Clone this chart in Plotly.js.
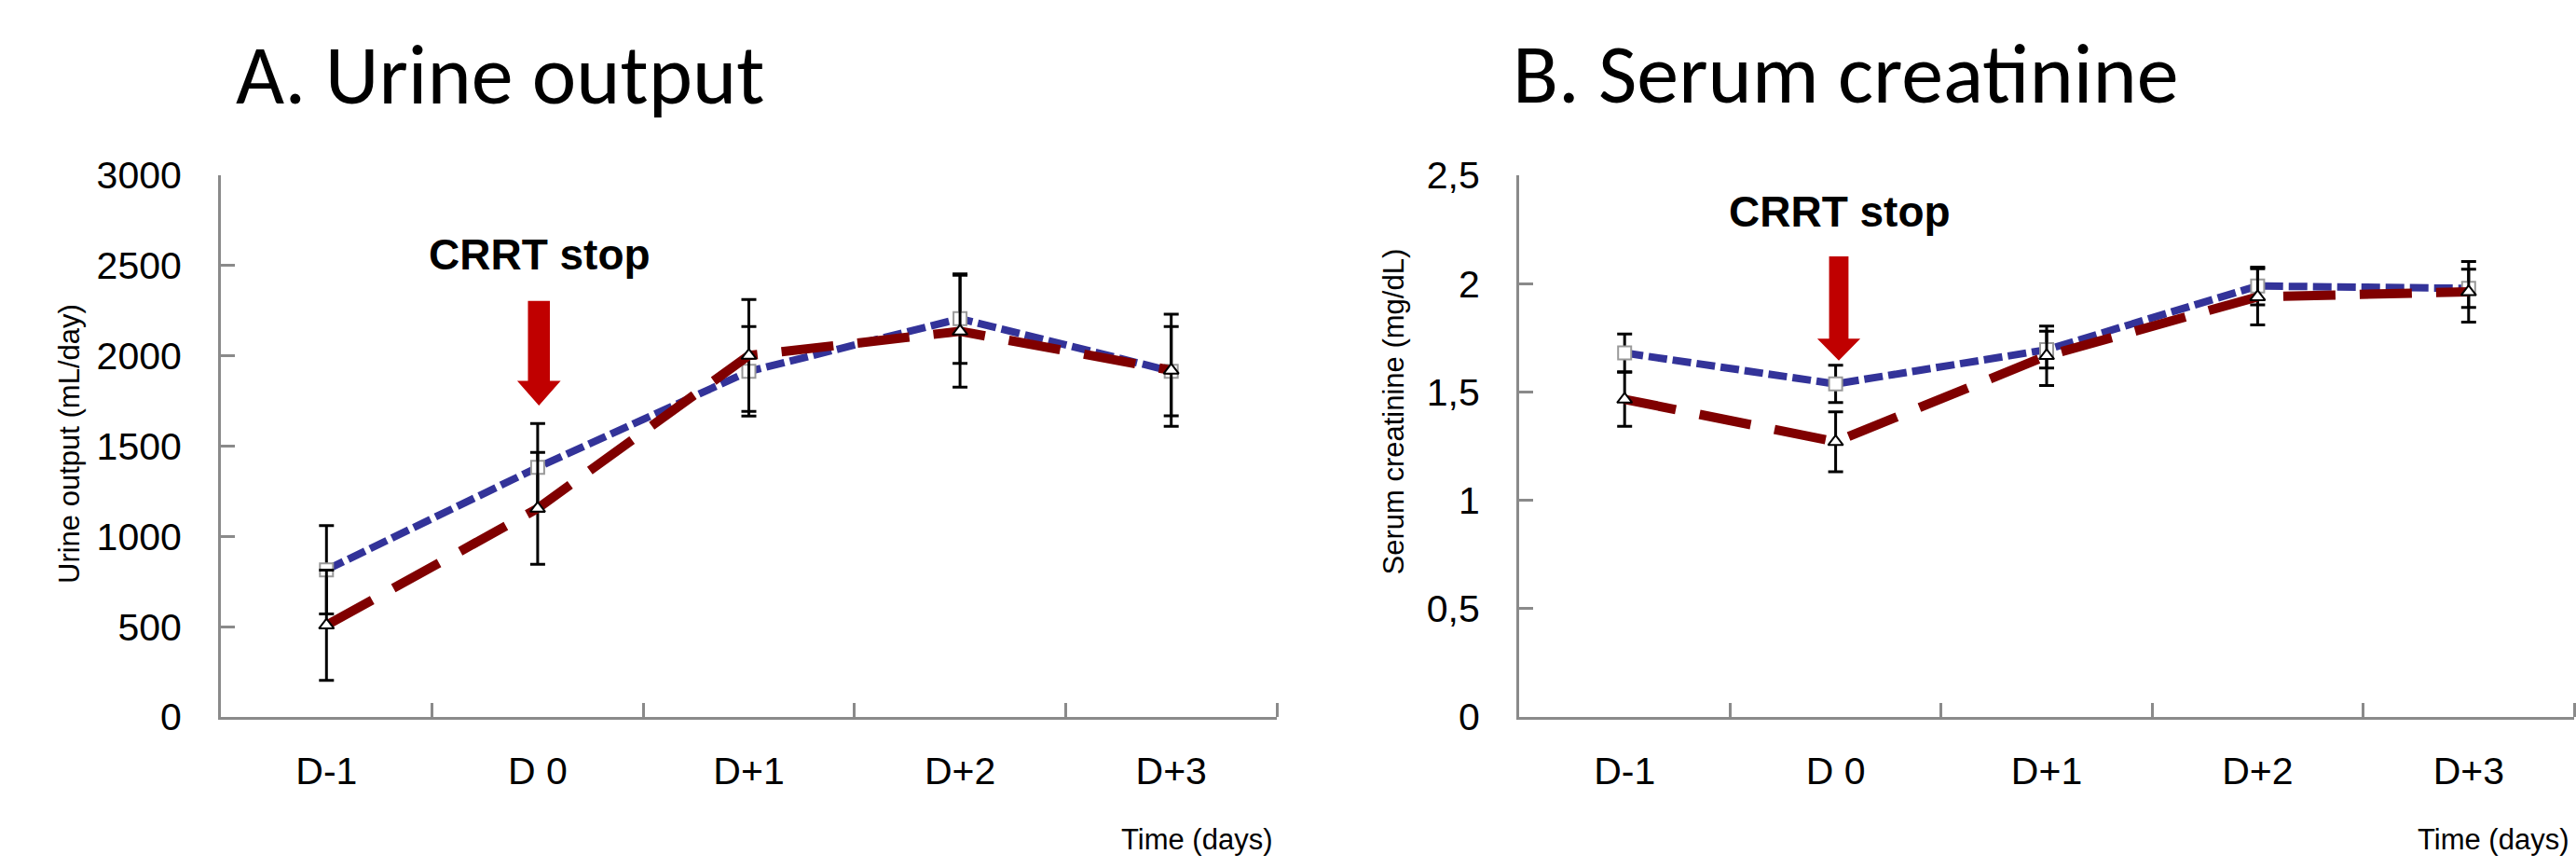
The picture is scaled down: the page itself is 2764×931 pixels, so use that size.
<!DOCTYPE html>
<html>
<head>
<meta charset="utf-8">
<script src="https://cdn.plot.ly/plotly-3.0.1.min.js"></script>
<style>html,body{margin:0;padding:0;background:#fff;}#chart{width:2764px;height:931px;}</style>
</head>
<body>
<div id="chart"></div>
<script>
// ---- data ----
const categories = ['D-1', 'D 0', 'D+1', 'D+2', 'D+3'];
const urineBlue = [815, 1382, 1914, 2206, 1915];
const urineBlueErr = [245, 243, 248, 248, 247];
const urineRed = [508, 1155, 2002, 2136, 1920];
const urineRedErr = [305, 310, 310, 310, 310];
const creatBlue = [1.68, 1.537, 1.695, 1.989, 1.978];
const creatBlueErr = [0.087, 0.086, 0.085, 0.087, 0.088];
const creatRed = [1.466, 1.27, 1.667, 1.939, 1.962];
const creatRedErr = [0.125, 0.138, 0.137, 0.13, 0.14];
const urineTicks = [0, 500, 1000, 1500, 2000, 2500, 3000];
const urineTickText = ['0', '500', '1000', '1500', '2000', '2500', '3000'];
const creatTicks = [0, 0.5, 1, 1.5, 2, 2.5];
const creatTickText = ['0', '0,5', '1', '1,5', '2', '2,5'];

// ---- styles ----
const ARIAL = 'Liberation Sans, Arial, Helvetica, sans-serif';
const TITLEF = 'Carlito, Calibri, Lato, sans-serif';
const AX = '#8a8a8a';
const BLUE = '#333399';
const RED = '#800000';
const W = 2764, H = 931;
const idx = categories.map((c, i) => i);

function blueTrace(y, err, xa, ya) {
  return {
    x: idx, y: y, xaxis: xa, yaxis: ya, type: 'scatter', mode: 'lines+markers',
    name: 'Group 1', showlegend: false,
    line: {color: BLUE, width: 8, dash: '20px,6px'},
    marker: {symbol: 'square', size: 14, color: '#ffffff', line: {color: '#999999', width: 2}},
    error_y: {type: 'data', array: err, visible: true, color: '#000000', thickness: 3, width: 8}
  };
}
function redTrace(y, err, xa, ya) {
  return {
    x: idx, y: y, xaxis: xa, yaxis: ya, type: 'scatter', mode: 'lines+markers',
    name: 'Group 2', showlegend: false,
    line: {color: RED, width: 10, dash: '56px,26px'},
    marker: {symbol: 'triangle-up', size: 14, color: '#ffffff', line: {color: '#000000', width: 2}},
    error_y: {type: 'data', array: err, visible: true, color: '#000000', thickness: 3, width: 8}
  };
}

const data = [
  blueTrace(urineBlue, urineBlueErr, 'x', 'y'),
  redTrace(urineRed, urineRedErr, 'x', 'y'),
  blueTrace(creatBlue, creatBlueErr, 'x2', 'y2'),
  redTrace(creatRed, creatRedErr, 'x2', 'y2')
];

function xAxis(domain, anchor) {
  return {
    domain: domain, anchor: anchor, range: [-0.5, 4.5],
    tickmode: 'array', tickvals: idx, ticktext: categories, ticks: '',
    showline: true, linecolor: AX, linewidth: 3, showgrid: false, zeroline: false,
    tickfont: {family: ARIAL, size: 41, color: '#000'}, ticklabelstandoff: 20,
    minor: {tickmode: 'array', tickvals: [0.5, 1.5, 2.5, 3.5, 4.5], ticks: 'inside', ticklen: 15,
            tickwidth: 3, tickcolor: AX, showgrid: false},
    fixedrange: true
  };
}
function yAxis(range, tv, tt, anchor) {
  return {
    domain: [162 / H, 743 / H], anchor: anchor, range: range,
    tickmode: 'array', tickvals: tv, ticktext: tt,
    ticks: 'inside', ticklen: 15, tickwidth: 3, tickcolor: AX,
    showline: true, linecolor: AX, linewidth: 3, showgrid: false, zeroline: false,
    tickfont: {family: ARIAL, size: 41, color: '#000'}, ticklabelstandoff: 31,
    fixedrange: true
  };
}

function py(pix) { return (H - pix) / H; }
function px(pix) { return pix / W; }

const annotations = [
  {text: 'A. Urine output', xref: 'paper', yref: 'paper', x: px(251), y: py(80), xanchor: 'left', yanchor: 'middle',
   showarrow: false, font: {family: TITLEF, size: 90, color: '#000'}},
  {text: 'B. Serum creatinine', xref: 'paper', yref: 'paper', x: px(1621), y: py(79), xanchor: 'left', yanchor: 'middle',
   showarrow: false, font: {family: TITLEF, size: 90, color: '#000'}},
  {text: '<b>CRRT stop</b>', xref: 'x', yref: 'paper', x: 1.01, y: py(273.5), xanchor: 'center', yanchor: 'middle',
   showarrow: false, font: {family: ARIAL, size: 46, color: '#000'}},
  {text: '<b>CRRT stop</b>', xref: 'x2', yref: 'paper', x: 1.02, y: py(226.5), xanchor: 'center', yanchor: 'middle',
   showarrow: false, font: {family: ARIAL, size: 46, color: '#000'}},
  {text: 'Urine output (mL/day)', xref: 'paper', yref: 'paper', x: px(74), y: py(476), textangle: -90,
   xanchor: 'center', yanchor: 'middle', showarrow: false, font: {family: ARIAL, size: 31, color: '#000'}},
  {text: 'Serum creatinine (mg/dL)', xref: 'paper', yref: 'paper', x: px(1495), y: py(441.5), textangle: -90,
   xanchor: 'center', yanchor: 'middle', showarrow: false, font: {family: ARIAL, size: 31, color: '#000'}},
  {text: 'Time (days)', xref: 'paper', yref: 'paper', x: px(1367), y: py(900), xanchor: 'right', yanchor: 'middle',
   showarrow: false, font: {family: ARIAL, size: 31, color: '#000'}},
  {text: 'Time (days)', xref: 'paper', yref: 'paper', x: px(2758), y: py(900), xanchor: 'right', yanchor: 'middle',
   showarrow: false, font: {family: ARIAL, size: 31, color: '#000'}}
];

function arrowPath(cx, hs, hh, yTop, yNeck, yTip) {
  return 'M' + (cx - hs) + ',' + yTop + ' L' + (cx + hs) + ',' + yTop + ' L' + (cx + hs) + ',' + yNeck +
         ' L' + (cx + hh) + ',' + yNeck + ' L' + cx + ',' + yTip + ' L' + (cx - hh) + ',' + yNeck +
         ' L' + (cx - hs) + ',' + yNeck + ' Z';
}

const shapes = [
  {type: 'path', xref: 'x', yref: 'y', path: arrowPath(1.006, 0.052, 0.103, 2304, 1862, 1725),
   fillcolor: '#C00000', line: {width: 0}},
  {type: 'path', xref: 'x2', yref: 'y2', path: arrowPath(1.015, 0.046, 0.102, 2.1256, 1.7457, 1.645),
   fillcolor: '#C00000', line: {width: 0}}
];

const layout = {
  width: W, height: H,
  margin: {l: 0, r: 0, t: 0, b: 0, pad: 0},
  paper_bgcolor: '#ffffff', plot_bgcolor: '#ffffff',
  showlegend: false,
  xaxis: xAxis([237 / W, 1370 / W], 'y'),
  yaxis: yAxis([0, 3000], urineTicks, urineTickText, 'x'),
  xaxis2: xAxis([1630 / W, 2762 / W], 'y2'),
  yaxis2: yAxis([0, 2.5], creatTicks, creatTickText, 'x2'),
  annotations: annotations,
  shapes: shapes
};

Plotly.newPlot('chart', data, layout, {staticPlot: true, displayModeBar: false});
</script>
</body>
</html>
